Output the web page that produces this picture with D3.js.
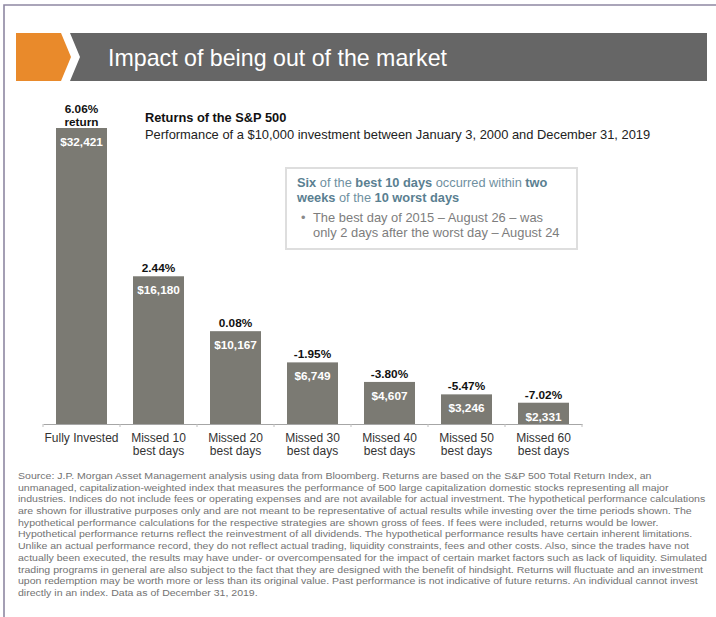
<!DOCTYPE html>
<html>
<head>
<meta charset="utf-8">
<script src="https://cdn.jsdelivr.net/npm/d3@7"></script>
<style>
  html, body { margin: 0; padding: 0; background: #fff; }
  svg { display: block; font-family: "Liberation Sans", Arial, sans-serif; }
</style>
</head>
<body>
<div id="chart"></div>
<script>
// chart data
const categories = ['Fully Invested', 'Missed 10', 'Missed 20', 'Missed 30', 'Missed 40', 'Missed 50', 'Missed 60'];
const categorySub = ['', 'best days', 'best days', 'best days', 'best days', 'best days', 'best days'];
const values = [32421, 16180, 10167, 6749, 4607, 3246, 2331];
const returns = [6.06, 2.44, 0.08, -1.95, -3.80, -5.47, -7.02];

const title = 'Impact of being out of the market';
const subTitle = 'Returns of the S&P 500';
const subTitle2 = 'Performance of a $10,000 investment between January 3, 2000 and December 31, 2019';

const calloutHead = [
    [['Six', true], [' of the ', false], ['best 10 days', true], [' occurred within ', false], ['two', true]],
    [['weeks', true], [' of the ', false], ['10 worst days', true]]
];
const calloutBullet = ['The best day of 2015 \u2013 August 26 \u2013 was', 'only 2 days after the worst day \u2013 August 24'];

const footnote = [
    'Source: J.P. Morgan Asset Management analysis using data from Bloomberg. Returns are based on the S&P 500 Total Return Index, an',
    'unmanaged, capitalization-weighted index that measures the performance of 500 large capitalization domestic stocks representing all major',
    'industries. Indices do not include fees or operating expenses and are not available for actual investment. The hypothetical performance calculations',
    'are shown for illustrative purposes only and are not meant to be representative of actual results while investing over the time periods shown. The',
    'hypothetical performance calculations for the respective strategies are shown gross of fees. If fees were included, returns would be lower.',
    'Hypothetical performance returns reflect the reinvestment of all dividends. The hypothetical performance results have certain inherent limitations.',
    'Unlike an actual performance record, they do not reflect actual trading, liquidity constraints, fees and other costs. Also, since the trades have not',
    'actually been executed, the results may have under- or overcompensated for the impact of certain market factors such as lack of liquidity. Simulated',
    'trading programs in general are also subject to the fact that they are designed with the benefit of hindsight. Returns will fluctuate and an investment',
    'upon redemption may be worth more or less than its original value. Past performance is not indicative of future returns. An individual cannot invest',
    'directly in an index. Data as of December 31, 2019.'
];

const W = 716, H = 617;
const svg = d3.select('#chart').append('svg').attr('width', W).attr('height', H);

// frame (left + top only)
svg.append('path')
    .attr('d', `M4,${H} L4,5 L${W},5`)
    .attr('fill', 'none').attr('stroke', '#8e88a2').attr('stroke-width', 1.6);

// header band
svg.append('polygon')
    .attr('points', '16,33 61,33 71,57 61,81 16,81')
    .attr('fill', '#e98a2b');
svg.append('polygon')
    .attr('points', '70,33 707,33 707,81 70,81 80,57')
    .attr('fill', '#666666');
svg.append('text')
    .attr('x', 108).attr('y', 66)
    .attr('fill', '#fff').attr('font-size', 23.2)
    .text(title);

// subtitles
svg.append('text').attr('x', 145).attr('y', 122)
    .attr('font-size', 12.8).attr('font-weight', 'bold').attr('fill', '#111')
    .text(subTitle);
svg.append('text').attr('x', 145).attr('y', 139)
    .attr('font-size', 12.9).attr('fill', '#222')
    .text(subTitle2);

// scales
const x = d3.scaleBand().domain(categories).range([43, 582]).paddingInner(26 / 77).paddingOuter(13 / 77);
const y = d3.scaleLinear().domain([0, d3.max(values)]).range([424, 128]);
const step = x.step();

// bars
const bars = svg.append('g').selectAll('g').data(categories).join('g');
bars.append('rect')
    .attr('x', d => x(d))
    .attr('y', (d, i) => y(values[i]))
    .attr('width', x.bandwidth())
    .attr('height', (d, i) => y(0) - y(values[i]))
    .attr('fill', '#7b7a73');

bars.append('text')
    .attr('x', d => x(d) + x.bandwidth() / 2)
    .attr('y', (d, i) => y(values[i]) + 18)
    .attr('text-anchor', 'middle').attr('fill', '#fff')
    .attr('font-size', 11.8).attr('font-weight', 'bold')
    .text((d, i) => '$' + d3.format(',')(values[i]));

bars.append('text')
    .attr('x', d => x(d) + x.bandwidth() / 2)
    .attr('y', (d, i) => y(values[i]) - (i === 0 ? 15 : 4))
    .attr('text-anchor', 'middle').attr('fill', '#111')
    .attr('font-size', 11.8).attr('font-weight', 'bold')
    .text((d, i) => returns[i].toFixed(2) + '%');

svg.append('text')
    .attr('x', x(categories[0]) + x.bandwidth() / 2)
    .attr('y', y(values[0]) - 2)
    .attr('text-anchor', 'middle').attr('fill', '#111')
    .attr('font-size', 11.8).attr('font-weight', 'bold')
    .text('return');

// axis
const axis = svg.append('g').attr('transform', `translate(0,${y(0)})`)
    .call(d3.axisBottom(x).tickSize(0).tickFormat(''));
axis.select('.domain').attr('stroke', '#a6a6a6').attr('stroke-width', 1.2);
const bounds = d3.range(categories.length + 1).map(i => 43 + i * step);
axis.selectAll('.bound').data(bounds).join('line')
    .attr('class', 'bound')
    .attr('x1', d => d).attr('x2', d => d)
    .attr('y1', 0).attr('y2', 3)
    .attr('stroke', '#bdbdbd');

// category labels
const labels = svg.append('g').selectAll('text').data(categories).join('text')
    .attr('text-anchor', 'middle').attr('font-size', 12).attr('fill', '#333');
labels.append('tspan')
    .attr('x', d => x(d) + x.bandwidth() / 2).attr('y', 442)
    .text(d => d);
labels.append('tspan')
    .attr('x', d => x(d) + x.bandwidth() / 2).attr('y', 455)
    .text((d, i) => categorySub[i]);

// callout box
svg.append('rect')
    .attr('x', 286).attr('y', 168).attr('width', 291).attr('height', 81)
    .attr('fill', '#fff').attr('stroke', '#dedede').attr('stroke-width', 2);
const head = svg.append('text').attr('font-size', 12.8).attr('fill', '#66899a');
calloutHead.forEach((line, li) => {
    line.forEach((seg, si) => {
        const t = head.append('tspan').text(seg[0])
            .attr('font-weight', seg[1] ? 'bold' : 'normal')
            .attr('fill', seg[1] ? '#5a8091' : '#6f909f');
        if (si === 0) t.attr('x', 297).attr('y', 187 + li * 15);
    });
});
svg.append('text').attr('x', 301).attr('y', 222)
    .attr('font-size', 12.8).attr('fill', '#8a8a8a').text('\u2022');
svg.append('g').selectAll('text').data(calloutBullet).join('text')
    .attr('x', 313).attr('y', (d, i) => 222 + i * 15)
    .attr('font-size', 12.9).attr('fill', '#7d7d7d')
    .text(d => d);

// footnote
const foot = svg.append('g');
foot.selectAll('text').data(footnote).join('text')
    .attr('x', 0).attr('y', (d, i) => 479 + i * 11.7)
    .attr('font-size', 9.6).attr('fill', '#737373')
    .text(d => d);
let maxW = 0;
foot.selectAll('text').each(function () { maxW = Math.max(maxW, this.getComputedTextLength()); });
const k = maxW > 0 ? 689 / maxW : 1;
foot.attr('transform', `translate(18,0) scale(${k},1)`);
</script>
</body>
</html>
